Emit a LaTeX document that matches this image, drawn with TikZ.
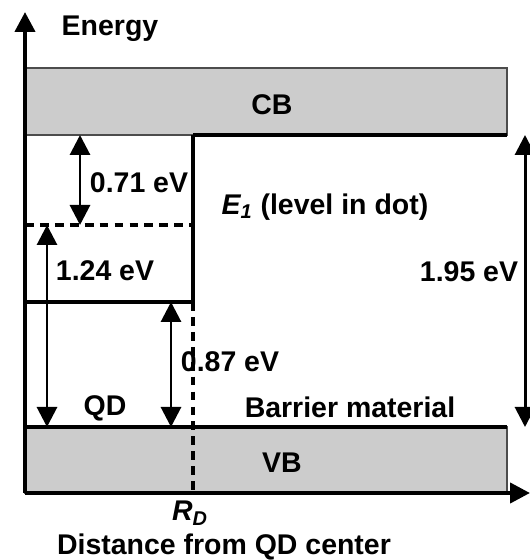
\documentclass[tikz,border=0pt]{standalone}
\usepackage{fontspec}
\setmainfont{Liberation Sans}
\usetikzlibrary{arrows.meta}

\begin{document}
\begin{tikzpicture}[
  lbl/.style={font=\fontsize{16.2}{19}\selectfont\bfseries, inner sep=0pt},
  band/.style={fill=black!20, draw=black!70, line width=0.6pt},
  edge/.style={line width=2.6pt},
  level/.style={line width=2pt, dash pattern=on 5pt off 3.5pt},
  gap/.style={line width=1.7pt, {Triangle[length=0.4cm,width=0.4cm]}-{Triangle[length=0.4cm,width=0.4cm]}},
  axis/.style={line width=2.4pt, -{Triangle[length=0.4cm,width=0.4cm]}}
]
\useasboundingbox (0,0) rectangle (10.6,11.2);

% bands
\draw[band] (0.5,8.5) rectangle (10.14,9.84);
\draw[band] (0.5,1.34) rectangle (10.14,2.66);

% band edges
\coordinate (o)     at (0.5,1.34);
\coordinate (ytop)  at (0.5,10.96);
\coordinate (xend)  at (10.6,1.34);
\coordinate (cbL)   at (0.5,8.5);
\coordinate (cbR)   at (10.14,8.5);
\coordinate (wallT) at (3.86,8.5);
\coordinate (wallB) at (3.86,5.16);
\coordinate (qdB)   at (0.5,5.16);
\coordinate (e1L)   at (0.5,6.7);
\coordinate (e1R)   at (3.86,6.7);
\coordinate (vbL)   at (0.5,2.66);
\coordinate (vbR)   at (10.14,2.66);
\coordinate (rd)    at (3.86,1.34);

% arrow ends
\coordinate (a1t) at (1.6,8.5);
\coordinate (a1b) at (1.6,6.7);
\coordinate (a2t) at (0.94,6.7);
\coordinate (a2b) at (0.94,2.66);
\coordinate (a3t) at (3.42,5.16);
\coordinate (a3b) at (3.42,2.66);
\coordinate (a4t) at (10.5,8.5);
\coordinate (a4b) at (10.5,2.66);

% labels
\node[lbl] (energy)  at (2.2,10.63)  {Energy};
\node[lbl] (cb)      at (5.44,9.1)   {CB};
\node[lbl] (vb)      at (5.64,1.94)  {VB};
\node[lbl] (e1)      at (6.5,7.06)   {\itshape E\textsubscript{1}\upshape\ (level in dot)};
\node[lbl] (l071)    at (2.78,7.54)  {0.71 eV};
\node[lbl] (l124)    at (2.1,5.78)   {1.24 eV};
\node[lbl] (l195)    at (9.38,5.76)  {1.95 eV};
\node[lbl] (l087)    at (4.6,3.96)   {0.87 eV};
\node[lbl] (qd)      at (2.1,3.04)   {QD};
\node[lbl] (barrier) at (7.0,3.06)   {Barrier material};
\node[lbl] (rdl)     at (3.8,0.94)   {\itshape R\textsubscript{D}};
\node[lbl] (dist)    at (4.48,0.26)  {Distance from QD center};

% lines
\draw[edge] (wallT) -- (cbR);
\draw[edge] (qdB) -- (wallB) -- (wallT);
\draw[edge] (vbL) -- (vbR);
\draw[level] (e1L) -- (e1R);
\draw[level] (wallB) -- (rd);

% gaps
\draw[gap] (a1t) -- (a1b);
\draw[gap] (a2t) -- (a2b);
\draw[gap] (a3t) -- (a3b);
\draw[gap] (a4t) -- (a4b);

% axes
\draw[axis] (o) -- (ytop);
\draw[axis] (o) -- (xend);

\end{tikzpicture}
\end{document}
